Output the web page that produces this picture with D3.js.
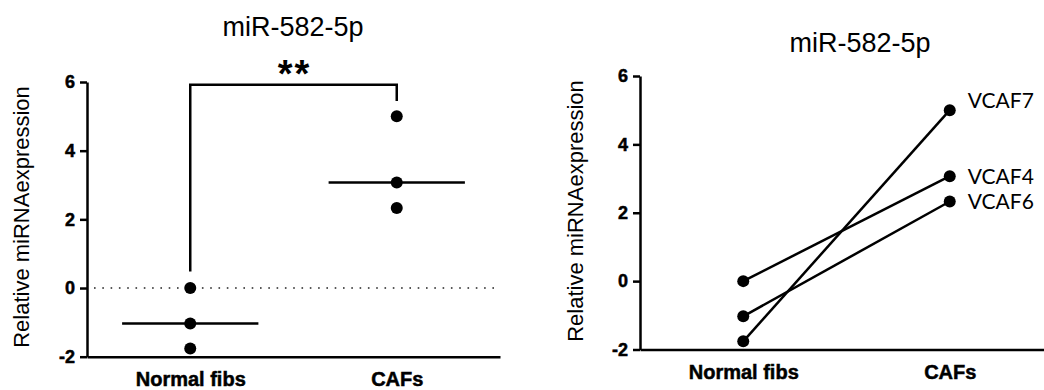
<!DOCTYPE html>
<html>
<head>
<meta charset="utf-8">
<script src="https://cdn.jsdelivr.net/npm/d3@7"></script>
<style>
  body { margin: 0; background: #fff; }
  svg { display: block; }
</style>
</head>
<body>
<script>
// data
var categories = ["Normal fibs", "CAFs"];
var normalVals = [0, -1.03, -1.76];      // normal fibroblasts
var cafVals = [3.07, 2.33, 5.0];         // paired CAFs
var pairLabels = ["VCAF4", "VCAF6", "VCAF7"];
var yTicks = [-2, 0, 2, 4, 6];
var titleText = "miR-582-5p";
var yLabelText = "Relative miRNAexpression";
var sigText = "**";

var width = 1044, height = 390;
var FONT = "'Liberation Sans', Arial, sans-serif";
var LW = 2.5, R = 6;

var svg = d3.select("body").append("svg")
    .attr("width", width)
    .attr("height", height);

function styleAxis(g, size) {
  g.attr("font-family", null).attr("font-size", null);
  g.selectAll("path, line").attr("stroke", "#000").attr("stroke-width", LW);
  g.selectAll("text")
      .attr("font-family", FONT)
      .attr("font-size", size)
      .attr("font-weight", "bold")
      .attr("fill", "#000")
      .attr("stroke", "#000")
      .attr("stroke-width", 0.5);
}

function addText(g, size) {
  return g.append("text")
      .attr("font-family", FONT)
      .attr("font-size", size)
      .attr("fill", "#000");
}

// ---------- left panel : scatter with medians ----------
var xL = d3.scalePoint().domain(categories).range([87, 500]).padding(0.5),
    yL = d3.scaleLinear().domain([-2, 6]).range([356.7, 82]);

var left = svg.append("g");

addText(left, 27)
    .attr("x", 293).attr("y", 36)
    .attr("text-anchor", "middle")
    .text(titleText);

addText(left, 22)
    .attr("transform", "translate(29,217) rotate(-90)")
    .attr("text-anchor", "middle")
    .text(yLabelText);

// dotted zero line
left.append("line")
    .attr("x1", 94).attr("x2", 500)
    .attr("y1", yL(0)).attr("y2", yL(0))
    .attr("stroke", "#222")
    .attr("stroke-width", 1.6)
    .attr("stroke-dasharray", "1.6,6.7");

left.append("g")
    .attr("transform", "translate(87,0)")
    .call(d3.axisLeft(yL).tickValues(yTicks).tickSize(7).tickPadding(5).tickSizeOuter(0).tickFormat(String))
    .call(styleAxis, 18);

left.append("g")
    .attr("transform", "translate(0," + yL(-2) + ")")
    .call(d3.axisBottom(xL).tickSize(0).tickPadding(15).tickSizeOuter(0))
    .call(styleAxis, 20);

// significance bracket
var bx0 = xL(categories[0]), bx1 = xL(categories[1]);
left.append("path")
    .attr("d", d3.line()([[bx0, yL(0.48)], [bx0, yL(5.92)], [bx1, yL(5.92)], [bx1, yL(5.45)]]))
    .attr("fill", "none")
    .attr("stroke", "#000")
    .attr("stroke-width", LW);

addText(left, 38)
    .attr("x", (bx0 + bx1) / 2 + 1).attr("y", 87)
    .attr("text-anchor", "middle")
    .attr("font-weight", "bold")
    .attr("letter-spacing", 2)
    .text(sigText);

var groups = [normalVals, cafVals];
var step = xL.step();

left.selectAll(".median")
    .data(groups)
  .enter().append("line")
    .attr("class", "median")
    .attr("x1", function(d, i) { return xL(categories[i]) - step * 0.33; })
    .attr("x2", function(d, i) { return xL(categories[i]) + step * 0.33; })
    .attr("y1", function(d) { return yL(d3.median(d)); })
    .attr("y2", function(d) { return yL(d3.median(d)); })
    .attr("stroke", "#000")
    .attr("stroke-width", LW);

groups.forEach(function(vals, i) {
  left.selectAll(".dot" + i)
      .data(vals)
    .enter().append("circle")
      .attr("cx", xL(categories[i]))
      .attr("cy", function(d) { return yL(d); })
      .attr("r", R)
      .attr("fill", "#000");
});

// ---------- right panel : paired lines ----------
var xR = d3.scalePoint().domain(categories).range([640, 1053]).padding(0.5),
    yR = d3.scaleLinear().domain([-2, 6]).range([349.5, 76]);

var right = svg.append("g");

addText(right, 27)
    .attr("x", 860).attr("y", 52)
    .attr("text-anchor", "middle")
    .text(titleText);

addText(right, 22)
    .attr("transform", "translate(583,211) rotate(-90)")
    .attr("text-anchor", "middle")
    .text(yLabelText);

right.append("g")
    .attr("transform", "translate(640,0)")
    .call(d3.axisLeft(yR).tickValues(yTicks).tickSize(7).tickPadding(5).tickSizeOuter(0).tickFormat(String))
    .call(styleAxis, 18);

right.append("g")
    .attr("transform", "translate(0," + yR(-2) + ")")
    .call(d3.axisBottom(xR).tickSize(0).tickPadding(15).tickSizeOuter(0))
    .call(styleAxis, 20);

var pairs = pairLabels.map(function(name, i) {
  return { name: name, a: normalVals[i], b: cafVals[i] };
});

var pairLine = d3.line()
    .x(function(d) { return d[0]; })
    .y(function(d) { return d[1]; });

right.selectAll(".pair")
    .data(pairs)
  .enter().append("path")
    .attr("class", "pair")
    .attr("d", function(d) {
      return pairLine([[xR(categories[0]), yR(d.a)], [xR(categories[1]), yR(d.b)]]);
    })
    .attr("fill", "none")
    .attr("stroke", "#000")
    .attr("stroke-width", LW);

pairs.forEach(function(d) {
  right.append("circle").attr("cx", xR(categories[0])).attr("cy", yR(d.a)).attr("r", R).attr("fill", "#000");
  right.append("circle").attr("cx", xR(categories[1])).attr("cy", yR(d.b)).attr("r", R).attr("fill", "#000");
});

// label nudges: top label sits a bit higher
var labelDy = { VCAF7: -2.5 };
right.selectAll(".pair-label")
    .data(pairs)
  .enter().append("text")
    .attr("x", xR(categories[1]) + 18)
    .attr("y", function(d) { return yR(d.b) + (labelDy[d.name] !== undefined ? labelDy[d.name] : 8); })
    .attr("font-family", "Lato, 'Open Sans', sans-serif")
    .attr("font-size", 21)
    .attr("fill", "#000")
    .text(function(d) { return d.name; });
</script>
</body>
</html>
